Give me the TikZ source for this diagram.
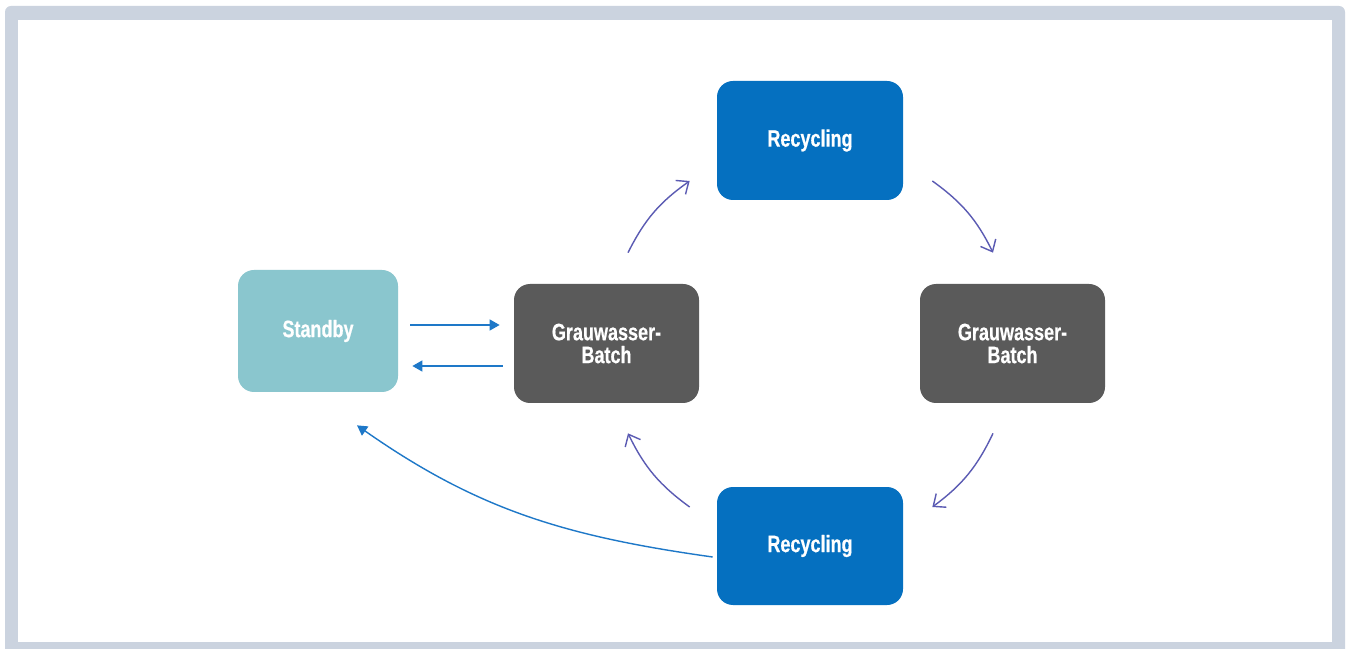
\documentclass[tikz,border=0pt]{standalone}
\usepackage{fontspec}
\newfontfamily\boxfont[FakeStretch=0.76,FakeBold=0.5]{Liberation Sans}
\usetikzlibrary{arrows.meta}

\begin{document}
\begin{tikzpicture}[
		state/.style={rounded corners=0.32cm, minimum width=3.72cm, minimum height=2.38cm,
			align=center, text=white, font=\boxfont\bfseries\fontsize{13.5}{13}\selectfont},
		flow/.style={draw=flowblue, line width=0.8pt, -{Triangle[length=2mm,width=2.2mm]}},
		loop/.style={draw=looppurple, line width=0.8pt, -{Straight Barb[length=2mm,width=3.4mm]}}
	]
	% Define colors
	\definecolor{framegrey}{RGB}{203,211,223}
	\definecolor{standbyteal}{RGB}{138,198,206}
	\definecolor{batchgrey}{RGB}{90,90,90}
	\definecolor{recblue}{RGB}{5,112,192}
	\definecolor{flowblue}{RGB}{30,120,200}
	\definecolor{looppurple}{RGB}{91,91,179}

	% Frame
	\useasboundingbox (0,0) rectangle (27,12.96);
	\fill[framegrey, rounded corners=0.12cm] (0.1,-0.5) rectangle (26.9,12.84);
	\fill[white] (0.36,0.12) rectangle (26.64,12.56);

	% States
	\node[state, fill=standbyteal, minimum width=3.2cm, minimum height=2.44cm] (standby) at (6.36,6.34) {Standby};
	\node[state, fill=batchgrey, minimum width=3.7cm] (gbL) at (12.13,6.09) {Grauwasser-\\Batch};
	\node[state, fill=recblue] (recT) at (16.2,10.15) {Recycling};
	\node[state, fill=batchgrey, minimum width=3.7cm] (gbR) at (20.25,6.09) {Grauwasser-\\Batch};
	\node[state, fill=recblue, minimum height=2.36cm] (recB) at (16.2,2.04) {Recycling};

	% Standby <-> batch
	\draw[flow] ([shift={(0.24,0.12)}]standby.east) -- ([shift={(-0.28,0.37)}]gbL.west);
	\draw[flow] ([shift={(-0.22,-0.45)}]gbL.west) -- ([shift={(0.28,-0.70)}]standby.east);

	% Cycle
	\draw[loop] ([shift={(0.43,0.62)}]gbL.north) to[bend left=14] ([shift={(-0.54,-0.81)}]recT.west);
	\draw[loop] ([shift={(0.58,-0.81)}]recT.east) to[bend left=14] ([shift={(-0.39,0.62)}]gbR.north);
	\draw[loop] ([shift={(-0.39,-0.60)}]gbR.south) to[bend left=14] ([shift={(0.58,0.78)}]recB.east);
	\draw[loop] ([shift={(-0.54,0.78)}]recB.west) to[bend left=14] ([shift={(0.43,-0.60)}]gbL.south);

	% Back to standby
	\draw[flow] ([shift={(-0.08,-0.22)}]recB.west) to[out=172,in=-35] ([shift={(0.78,-0.66)}]standby.south);
\end{tikzpicture}
\end{document}
